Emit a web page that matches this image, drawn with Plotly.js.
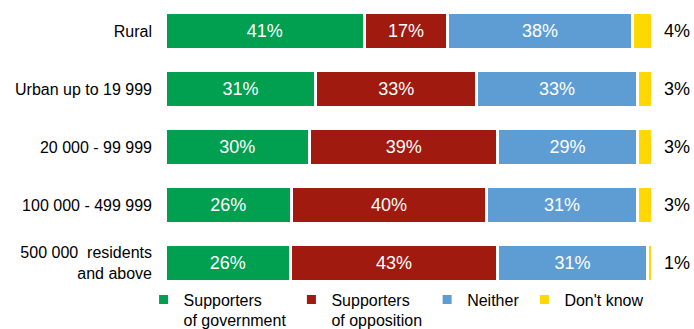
<!DOCTYPE html>
<html>
<head>
<meta charset="utf-8">
<script src="https://cdn.plot.ly/plotly-3.0.1.min.js"></script>
<style>html,body{margin:0;padding:0;background:#fff}#chart{width:694px;height:329px}</style>
</head>
<body>
<div id="chart"></div>
<script>
const categories = ["Rural", "Urban up to 19 999", "20 000 - 99 999", "100 000 - 499 999", "500 000\u00A0\u00A0residents<br>and above"];
const seriesNames = ["Supporters<br>of government", "Supporters<br>of opposition", "Neither", "Don't know"];
const government = [41, 31, 30, 26, 26];
const opposition = [17, 33, 39, 40, 43];
const neither = [38, 33, 29, 31, 31];
const dontKnow = [4, 3, 3, 3, 1];
const colors = ["#00A050", "#A01A10", "#5E9DD3", "#FFD800"];

const seriesValues = [government, opposition, neither, dontKnow];
const traces = seriesValues.map((vals, i) => ({
  type: "bar",
  orientation: "h",
  name: seriesNames[i],
  y: categories,
  x: vals,
  text: vals.map(v => v + "%"),
  textposition: i === 3 ? "none" : "inside",
  insidetextanchor: "middle",
  textfont: {color: "#ffffff", size: 18, family: "Liberation Sans, Arial, sans-serif"},
  marker: {color: colors[i], line: {color: "#ffffff", width: 3}},
  hoverinfo: "none"
}));

const annotations = categories.map((c, i) => ({
  x: 100, y: c, xref: "x", yref: "y",
  text: dontKnow[i] + "%",
  showarrow: false, xanchor: "left", xshift: 10,
  font: {size: 18, color: "#000", family: "Liberation Sans, Arial, sans-serif"}
}));

const layout = {
  width: 694, height: 329,
  margin: {l: 165, r: 42, t: 2, b: 47, autoexpand: false},
  barmode: "stack",
  barnorm: "percent",
  bargap: 0.36,
  paper_bgcolor: "#fff",
  plot_bgcolor: "#fff",
  font: {family: "Liberation Sans, Arial, sans-serif", size: 16, color: "#000"},
  xaxis: {range: [0, 100], showgrid: false, zeroline: false, showticklabels: false, fixedrange: true},
  yaxis: {range: [4.328, -0.5], showgrid: false, zeroline: false, ticks: "", ticklabelstandoff: 12,
          tickfont: {size: 16, color: "#000"}},
  showlegend: true,
  legend: {orientation: "h", x: -0.044, xanchor: "left", y: -0.002, yanchor: "top",
           valign: "top", font: {size: 16, color: "#000"}, itemwidth: 30, tracegroupgap: 0,
           traceorder: "normal", bgcolor: "rgba(0,0,0,0)"},
  annotations: annotations
};

Plotly.newPlot("chart", traces, layout, {displayModeBar: false, staticPlot: true});
</script>
</body>
</html>
